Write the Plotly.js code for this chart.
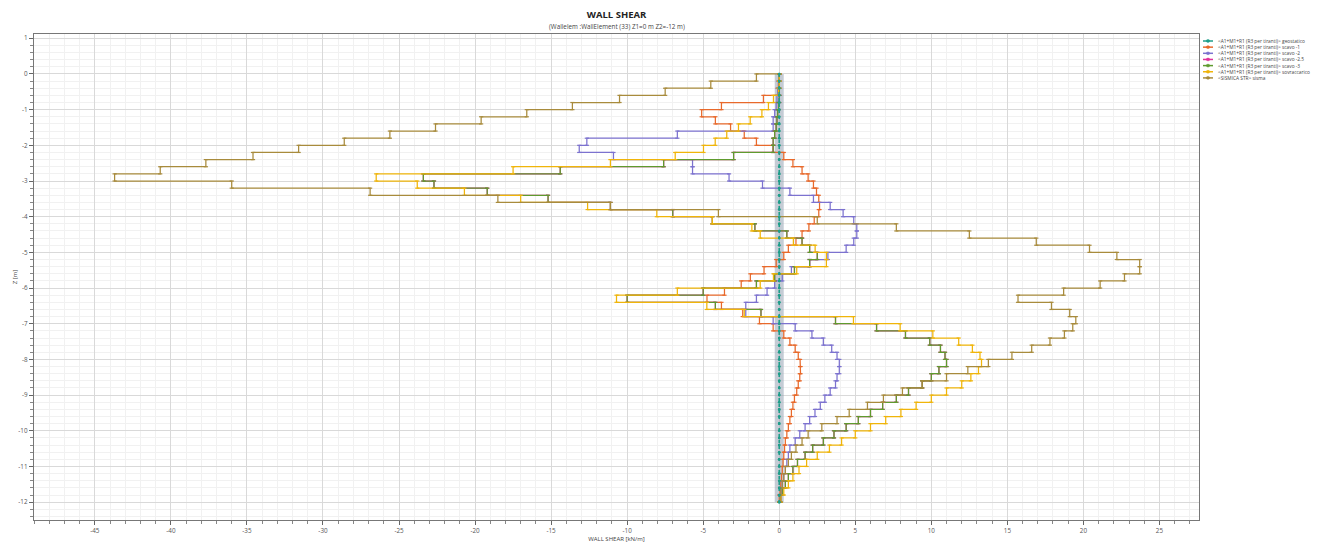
<!DOCTYPE html>
<html><head><meta charset="utf-8">
<script src="https://cdn.plot.ly/plotly-3.0.1.min.js"></script>
<style>html,body{margin:0;padding:0;background:#fff;}#chart{width:1342px;height:543px;}</style>
</head><body><div id="chart"></div>
<script>
// wall nodes (Z, m)
const nodeZ = [0,-0.2,-0.4,-0.6,-0.8,-1,-1.2,-1.4,-1.6,-1.8,-2,-2.2,-2.4,-2.6,-2.8,-3,-3.2,-3.4,-3.6,-3.8,-4,-4.2,-4.4,-4.6,-4.8,-5,-5.2,-5.4,-5.6,-5.8,-6,-6.2,-6.4,-6.6,-6.8,-7,-7.2,-7.4,-7.6,-7.8,-8,-8.2,-8.4,-8.6,-8.8,-9,-9.2,-9.4,-9.6,-9.8,-10,-10.2,-10.4,-10.6,-10.8,-11,-11.2,-11.4,-11.6,-11.8,-12];

// element shear values [kN/m], one per element between consecutive nodes
const geostatico = [0,0,0,0,0,0,0,0,0,0,0,0,0,0,0,0,0,0,0,0,0,0,0,0,0,0,0,0,0,0,0,0,0,0,0,0,0,0,0,0,0,0,0,0,0,0,0,0,0,0,0,0,0,0,0,0,0,0,0,0];
const scavo1 = [0,-0.05,-0.1,-1.04,-3.8,-5.1,-4.2,-3.2,-2.3,-1.5,-0.4,0.3,0.9,1.5,1.9,2.25,2.45,2.6,2.65,2.6,2.3,1.95,1.5,1.1,0.6,0.3,-0.2,-1.0,-1.9,-2.5,-3.6,-4.75,-3.8,-2.4,-1.3,-0.4,0.3,0.7,1.05,1.25,1.37,1.4,1.35,1.25,1.15,1.0,0.9,0.8,0.7,0.6,0.5,0.4,0.35,0.3,0.25,0.2,0.15,0.1,0.05,0];
const scavo2 = [0,-0.05,-0.1,-0.15,-0.2,-0.3,-0.4,-0.4,-6.7,-12.65,-13.15,-10.9,-5.7,-5.7,-3.3,-1.1,0.7,2.25,3.35,4.2,4.9,5.1,5.1,4.9,4.4,3.2,2.0,0.8,0.2,-0.3,-0.8,-1.5,-2.2,-2.2,-0.4,1.05,2.15,2.9,3.45,3.8,3.95,3.95,3.8,3.7,3.35,3.0,2.7,2.35,2.0,1.7,1.35,1.05,0.7,0.6,0.5,0.4,0.3,0.2,0.1,0.05];
const scavo3 = [0,0,0,0,-0.05,-0.1,-0.15,-0.2,-0.3,-0.4,-0.4,-3.0,-7.6,-14.4,-23.4,-22.7,-19.2,-15.2,-11.1,-7.0,-4.4,-1.6,0.5,1.5,2.0,2.5,2.0,1.0,-0.3,-1.5,-5.0,-10.0,-4.2,-1.2,3.7,6.4,8.3,9.9,10.6,10.9,11.0,10.5,10.0,9.4,8.5,7.7,6.8,6.0,5.2,4.4,3.6,2.9,2.2,1.7,1.2,0.9,0.6,0.4,0.2,0.1];
const scavo25 = [0,0,0,0,-0.05,-0.1,-0.15,-0.2,-0.3,-0.4,-0.4,-3.0,-7.6,-14.4,-23.4,-22.7,-19.2,-15.2,-11.1,-7.0,-4.4,-1.6,0.5,1.5,2.0,2.5,2.0,1.0,-0.3,-1.5,-5.0,-10.0,-4.2,-1.2,3.7,6.4,8.3,9.9,10.6,10.9,11.0,10.5,10.0,9.4,8.5,7.7,6.8,6.0,5.2,4.4,3.6,2.9,2.2,1.7,1.2,0.9,0.6,0.4,0.2,0.1];
const sovraccarico = [0,0,-0.05,-0.38,-0.71,-1.14,-1.91,-2.68,-3.45,-4.21,-4.98,-6.84,-11.1,-17.5,-26.5,-23.8,-20.7,-17.0,-12.6,-8.05,-4.4,-1.8,-1.25,0.93,2.36,3.1,3.1,1.15,-0.38,-1.25,-6.7,-10.7,-4.76,-2.3,4.88,7.95,10.1,11.8,12.7,13.2,13.3,13.1,12.6,12.0,11.0,10.0,9.0,8.0,7.0,6.0,5.0,4.1,3.3,2.5,1.8,1.3,0.9,0.6,0.3,0.1];
const sisma = [-1.5,-4.5,-7.5,-10.5,-13.6,-16.6,-19.6,-22.6,-25.6,-28.6,-31.6,-34.6,-37.7,-40.7,-43.7,-36.0,-26.9,-18.5,-11.1,-4.0,2.5,7.7,12.5,16.9,20.4,22.2,23.7,23.7,22.7,21.1,18.7,15.7,17.9,19.1,19.5,19.3,18.75,17.8,16.6,15.3,13.75,12.4,11.0,9.4,8.1,6.85,5.8,4.6,3.8,2.8,1.9,1.5,1.1,0.8,0.6,0.4,0.3,0.2,0.1,0.05];

const seriesNames = [
  '<A1+M1+R1 (R3 per tiranti)> geostatico',
  '<A1+M1+R1 (R3 per tiranti)> scavo -1',
  '<A1+M1+R1 (R3 per tiranti)> scavo -2',
  '<A1+M1+R1 (R3 per tiranti)> scavo -2.5',
  '<A1+M1+R1 (R3 per tiranti)> scavo -3',
  '<A1+M1+R1 (R3 per tiranti)> sovraccarico',
  '<SISMICA STR> sisma'
];
const seriesValues = [geostatico, scavo1, scavo2, scavo25, scavo3, sovraccarico, sisma];
const seriesColors = ['#1f9e8a','#e8692b','#7c72cf','#e0309a','#5f9b2e','#f0b50a','#a88b3c'];

const titleText = 'WALL SHEAR';
const subtitleText = '(Wallelem :WallElement (33) Z1=0 m Z2=-12 m)';
const xTickVals = [-45,-40,-35,-30,-25,-20,-15,-10,-5,0,5,10,15,20,25];
const xTickText = ['-45','-40','-35','-30','-25','-20','-15','-10','-5','0','5','10','15','20','25'];
const yTickVals = [1,0,-1,-2,-3,-4,-5,-6,-7,-8,-9,-10,-11,-12];
const yTickText = ['1','0','-1','-2','-3','-4','-5','-6','-7','-8','-9','-10','-11','-12'];

function steps(vals){
  const x=[0], y=[nodeZ[0]];
  vals.forEach((v,i)=>{ x.push(v,v); y.push(nodeZ[i], nodeZ[i+1]); });
  x.push(0); y.push(nodeZ[nodeZ.length-1]);
  return {x,y};
}

const traces = [];
// highlighted band under the geostatico profile
const g = steps(geostatico);
traces.push({x:g.x, y:g.y, mode:'lines', line:{color:'rgba(150,163,178,0.55)', width:9}, hoverinfo:'skip', showlegend:false});
const order = [1,2,3,4,5,6,0];
order.forEach(k=>{
  const s = steps(seriesValues[k]);
  const tr = {x:s.x, y:s.y, name:seriesNames[k], mode:'lines+markers', showlegend:false,
    line:{color:seriesColors[k], width:1.25},
    marker:{symbol:'line-ew-open', size:3, line:{color:seriesColors[k], width:1.2}}};
  if(k===0){ tr.line = {color:seriesColors[0], width:1.6, dash:'dot'}; tr.marker={symbol:'circle', size:2.6, color:seriesColors[0]}; }
  traces.push(tr);
});

// compact legend drawn at the right of the plot
const L = 34, R = 143, T = 34, B = 23, W = 1342, H = 543;
const pw = W-L-R, ph = H-T-B;
const px2x = p => (p-L)/pw, py2y = p => (H-B-p)/ph;
const shapes = [], annotations = [];
seriesNames.forEach((n,k)=>{
  const yy = py2y(41 + k*6.15);
  shapes.push({type:'line', xref:'paper', yref:'paper', x0:px2x(1203), x1:px2x(1213), y0:yy, y1:yy, line:{color:seriesColors[k], width:1.5}});
  shapes.push({type:'circle', xref:'paper', yref:'paper', x0:px2x(1206.3), x1:px2x(1209.7), y0:yy-1.4/ph, y1:yy+1.4/ph, fillcolor:seriesColors[k], line:{color:seriesColors[k], width:0.5}});
  annotations.push({xref:'paper', yref:'paper', x:px2x(1215.5), y:yy, xanchor:'left', yanchor:'middle', showarrow:false,
    text:n.replace(/</g,'&lt;').replace(/>/g,'&gt;'), font:{family:'Open Sans, Noto Sans, sans-serif', size:4.8, color:'#444'}});
});
annotations.push({xref:'paper', yref:'paper', x:0.5, y:py2y(26.5), xanchor:'center', yanchor:'middle', showarrow:false,
  text:subtitleText, font:{family:'Open Sans, Noto Sans, sans-serif', size:6.3, color:'#444'}});

const layout = {
  width:W, height:H, margin:{l:L, r:R, t:T, b:B},
  paper_bgcolor:'#fff', plot_bgcolor:'#fff',
  font:{family:'Open Sans, Noto Sans, sans-serif', color:'#555'},
  showlegend:false,
  title:{text:'<b>'+titleText+'</b>', x:0.5, xref:'paper', y:1-14.5/H, yref:'container', yanchor:'middle',
    font:{size:9.5, color:'#222'}},
  xaxis:{range:[-49,27.6], tickvals:xTickVals, ticktext:xTickText, ticks:'outside', ticklen:4, tickcolor:'#666',
    tickfont:{size:6.3, color:'#555'}, showgrid:true, gridcolor:'#d9d9d9', gridwidth:1, zeroline:false,
    showline:true, mirror:true, linecolor:'#777', linewidth:1.2,
    minor:{dtick:1, tick0:0, ticks:'outside', ticklen:2.5, tickcolor:'#888', showgrid:true, gridcolor:'#f1f1f1', gridwidth:1},
    title:{text:'WALL SHEAR [kN/m]', font:{size:6, color:'#444'}, standoff:1}},
  yaxis:{range:[-12.5,1.12], tickvals:yTickVals, ticktext:yTickText, ticks:'outside', ticklen:4, tickcolor:'#666',
    tickfont:{size:6.3, color:'#555'}, showgrid:true, gridcolor:'#d9d9d9', gridwidth:1, zeroline:false,
    showline:true, mirror:true, linecolor:'#777', linewidth:1.2,
    minor:{dtick:0.2, tick0:0, ticks:'outside', ticklen:2.5, tickcolor:'#888', showgrid:true, gridcolor:'#f1f1f1', gridwidth:1},
    title:{text:'Z [m]', font:{size:6, color:'#444'}, standoff:0}},
  shapes:shapes, annotations:annotations
};
Plotly.newPlot('chart', traces, layout, {displayModeBar:false, staticPlot:true});
</script></body></html>
